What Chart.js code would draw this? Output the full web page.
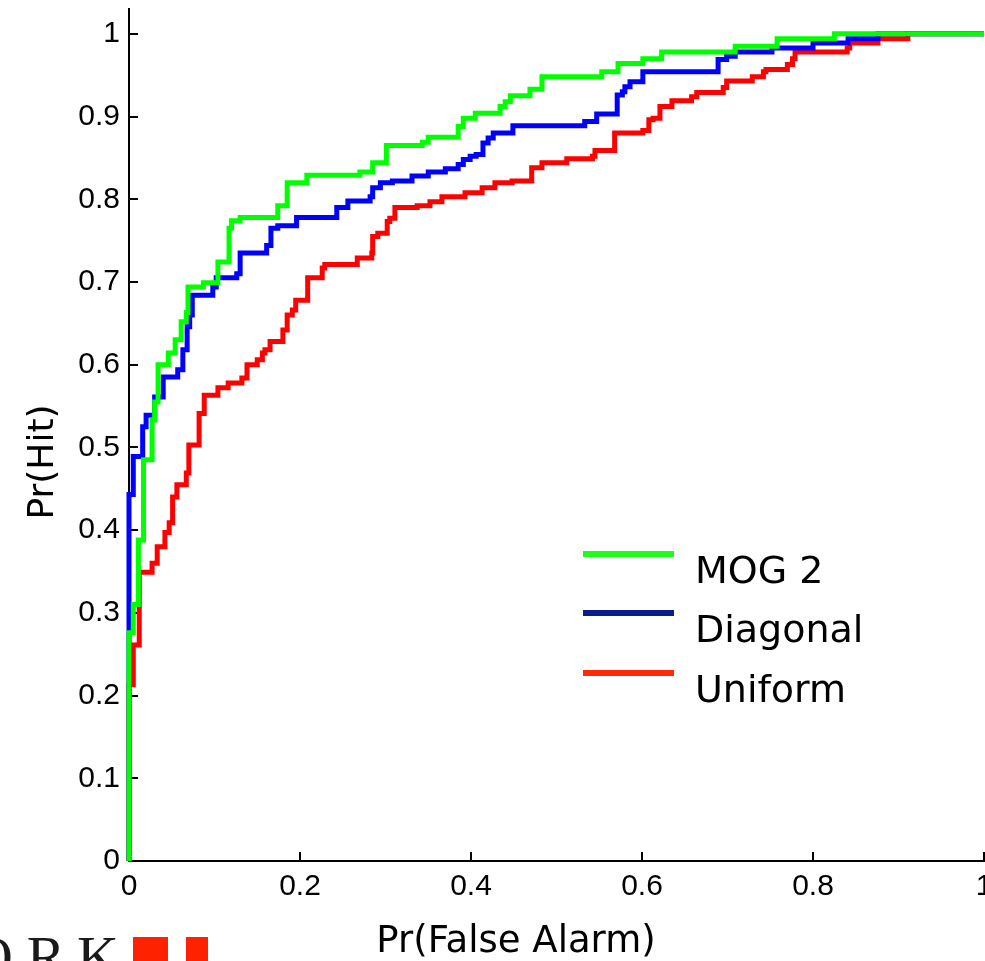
<!DOCTYPE html>
<html>
<head>
<meta charset="utf-8">
<script src="https://cdn.jsdelivr.net/npm/chart.js@4/dist/chart.umd.min.js"></script>
<style>
  html, body { margin: 0; padding: 0; background: #fff; overflow: hidden; }
  #wrap { position: relative; width: 985px; height: 961px; overflow: hidden; }
  #roc { position: absolute; left: 0; top: -30px; }
</style>
</head>
<body>
<div id="wrap"><canvas id="roc" width="1010" height="1000"></canvas></div>
<script>
  // Tick values
  var xTicks = [0, 0.2, 0.4, 0.6, 0.8, 1];
  var yTicks = [0, 0.1, 0.2, 0.3, 0.4, 0.5, 0.6, 0.7, 0.8, 0.9, 1];

  var seriesLabels = ['MOG 2', 'Diagonal', 'Uniform'];

  // MOG 2 (step-before points: false alarm rate, hit rate)
  var mogX = [0, 0, 0.005, 0.011, 0.017, 0.027, 0.030, 0.034, 0.046, 0.054, 0.061, 0.067, 0.069,
    0.087, 0.104, 0.117, 0.120, 0.130, 0.174, 0.185, 0.208, 0.270, 0.285, 0.301, 0.343, 0.350,
    0.385, 0.391, 0.405, 0.434, 0.440, 0.446, 0.469, 0.483, 0.553, 0.572, 0.601, 0.623, 0.709,
    0.758, 0.825, 1];
  var mogY = [0, 0.276, 0.310, 0.388, 0.485, 0.533, 0.555, 0.600, 0.614, 0.630, 0.652, 0.663, 0.694,
    0.699, 0.724, 0.765, 0.774, 0.778, 0.792, 0.820, 0.829, 0.833, 0.844, 0.865, 0.869, 0.875,
    0.888, 0.898, 0.904, 0.912, 0.918, 0.925, 0.933, 0.948, 0.954, 0.964, 0.970, 0.978, 0.985,
    0.994, 1.0, 1.0];

  // Diagonal
  var diagX = [0, 0, 0.005, 0.016, 0.020, 0.030, 0.040, 0.057, 0.063, 0.068, 0.071, 0.074, 0.098,
    0.102, 0.126, 0.130, 0.161, 0.166, 0.174, 0.196, 0.243, 0.256, 0.282, 0.285, 0.294, 0.308,
    0.331, 0.350, 0.370, 0.385, 0.391, 0.399, 0.406, 0.414, 0.420, 0.426, 0.449, 0.533, 0.547,
    0.571, 0.577, 0.580, 0.586, 0.601, 0.689, 0.699, 0.709, 0.752, 0.800, 0.841, 0.876, 1];
  var diagY = [0, 0.443, 0.489, 0.525, 0.539, 0.561, 0.585, 0.594, 0.618, 0.646, 0.660, 0.684, 0.694,
    0.705, 0.710, 0.735, 0.744, 0.765, 0.768, 0.778, 0.790, 0.798, 0.803, 0.814, 0.820, 0.822,
    0.828, 0.833, 0.837, 0.842, 0.848, 0.852, 0.854, 0.868, 0.874, 0.880, 0.889, 0.894, 0.903,
    0.926, 0.930, 0.936, 0.942, 0.954, 0.969, 0.973, 0.978, 0.983, 0.989, 0.994, 1.0, 1.0];

  // Uniform
  var unifX = [0, 0, 0.005, 0.012, 0.027, 0.033, 0.042, 0.047, 0.051, 0.056, 0.067, 0.070, 0.082,
    0.088, 0.104, 0.116, 0.132, 0.138, 0.150, 0.156, 0.159, 0.165, 0.180, 0.185, 0.191, 0.195,
    0.209, 0.226, 0.229, 0.267, 0.284, 0.285, 0.291, 0.302, 0.305, 0.311, 0.337, 0.352, 0.366,
    0.393, 0.413, 0.428, 0.448, 0.471, 0.483, 0.512, 0.542, 0.545, 0.568, 0.601, 0.608, 0.613,
    0.621, 0.635, 0.658, 0.664, 0.695, 0.699, 0.729, 0.742, 0.745, 0.770, 0.776, 0.779, 0.840,
    0.843, 0.876, 0.911, 1];
  var unifY = [0, 0.213, 0.261, 0.349, 0.360, 0.380, 0.397, 0.409, 0.440, 0.455, 0.469, 0.503, 0.541,
    0.563, 0.572, 0.578, 0.584, 0.600, 0.606, 0.614, 0.618, 0.628, 0.642, 0.660, 0.666, 0.678,
    0.705, 0.717, 0.721, 0.729, 0.735, 0.755, 0.759, 0.773, 0.777, 0.790, 0.792, 0.797, 0.803,
    0.808, 0.814, 0.820, 0.822, 0.838, 0.844, 0.849, 0.852, 0.859, 0.880, 0.883, 0.896, 0.898,
    0.912, 0.919, 0.924, 0.929, 0.935, 0.943, 0.948, 0.954, 0.957, 0.963, 0.970, 0.978, 0.983,
    0.989, 0.994, 1.0, 1.0];

  var lineColors = ['#00ff00', '#0000ff', '#ff0000'];
  var legendColors = ['#1cff1c', '#0a1c8c', '#ff2a0a'];

  function toPoints(xs, ys) {
    return xs.map(function (x, i) { return { x: x, y: ys[i] }; });
  }

  var TOP_SHIFT = 30; // canvas sits 30px above the page
  var titleFont = '"DejaVu Sans", "Noto Sans", sans-serif';
  var tickFont = { family: '"Liberation Sans", Arial, sans-serif', size: 30 };

  var decorations = {
    id: 'decorations',
    afterDraw: function (chart) {
      var ctx = chart.ctx;
      ctx.save();
      ctx.translate(0, TOP_SHIFT);
      ctx.fillStyle = '#000';
      ctx.textBaseline = 'alphabetic';

      // axis titles
      ctx.font = '37px ' + titleFont;
      ctx.textAlign = 'center';
      ctx.fillText('Pr(False Alarm)', 516, 952);
      ctx.font = '36px ' + titleFont;
      ctx.save();
      ctx.translate(53, 462);
      ctx.rotate(-Math.PI / 2);
      ctx.fillText('Pr(Hit)', 0, 0);
      ctx.restore();

      // legend
      var rows = [554, 613, 673];
      ctx.textAlign = 'left';
      ctx.font = '38px ' + titleFont;
      chart.data.datasets.forEach(function (ds, i) {
        ctx.fillStyle = legendColors[i];
        ctx.fillRect(583, rows[i] - 3, 91, 6);
        ctx.fillStyle = '#000';
        ctx.fillText(ds.label, 695, rows[i] + 29);
      });

      // logo fragment at the bottom left
      ctx.fillStyle = '#1a1a1a';
      ctx.font = '58px "Liberation Serif", "DejaVu Serif", serif';
      ctx.textAlign = 'center';
      ctx.fillText('O', -8, 976);
      ctx.fillText('R', 46, 976);
      ctx.fillText('K', 98, 976);
      ctx.fillStyle = '#ff2200';
      ctx.fillRect(133, 937, 35, 30);
      ctx.fillRect(186, 937, 22, 30);
      ctx.restore();
    }
  };

  var datasets = [
    toPoints(mogX, mogY),
    toPoints(diagX, diagY),
    toPoints(unifX, unifY)
  ].map(function (pts, i) {
    return {
      label: seriesLabels[i],
      data: pts,
      borderColor: lineColors[i],
      backgroundColor: lineColors[i],
      borderWidth: 5,
      stepped: 'before',
      pointRadius: 0,
      fill: false,
      clip: 8
    };
  });

  new Chart(document.getElementById('roc').getContext('2d'), {
    type: 'line',
    data: { datasets: datasets },
    plugins: [decorations],
    options: {
      responsive: false,
      animation: false,
      devicePixelRatio: 1,
      layout: { padding: { top: 39, right: 26, left: 0, bottom: 0 } },
      plugins: { legend: { display: false }, tooltip: { enabled: false } },
      scales: {
        x: {
          type: 'linear',
          position: 'bottom',
          min: 0,
          max: 1,
          afterBuildTicks: function (scale) {
            scale.ticks = xTicks.map(function (v) { return { value: v }; });
          },
          afterFit: function (scale) { scale.height = 109; },
          ticks: {
            color: '#000',
            font: tickFont,
            padding: 17,
            maxRotation: 0,
            callback: function (v) { return String(v); }
          },
          grid: { drawOnChartArea: false, tickLength: -9, color: '#000', lineWidth: 2 },
          border: { color: '#000', width: 2 }
        },
        y: {
          type: 'linear',
          min: 0,
          max: 1.03,
          afterBuildTicks: function (scale) {
            scale.ticks = yTicks.map(function (v) { return { value: v }; });
          },
          afterFit: function (scale) { scale.width = 129; },
          ticks: {
            color: '#000',
            font: tickFont,
            padding: 18,
            callback: function (v) { return String(v); }
          },
          grid: { drawOnChartArea: false, tickLength: -9, color: '#000', lineWidth: 2 },
          border: { color: '#000', width: 2 }
        }
      }
    }
  });
</script>
</body>
</html>
